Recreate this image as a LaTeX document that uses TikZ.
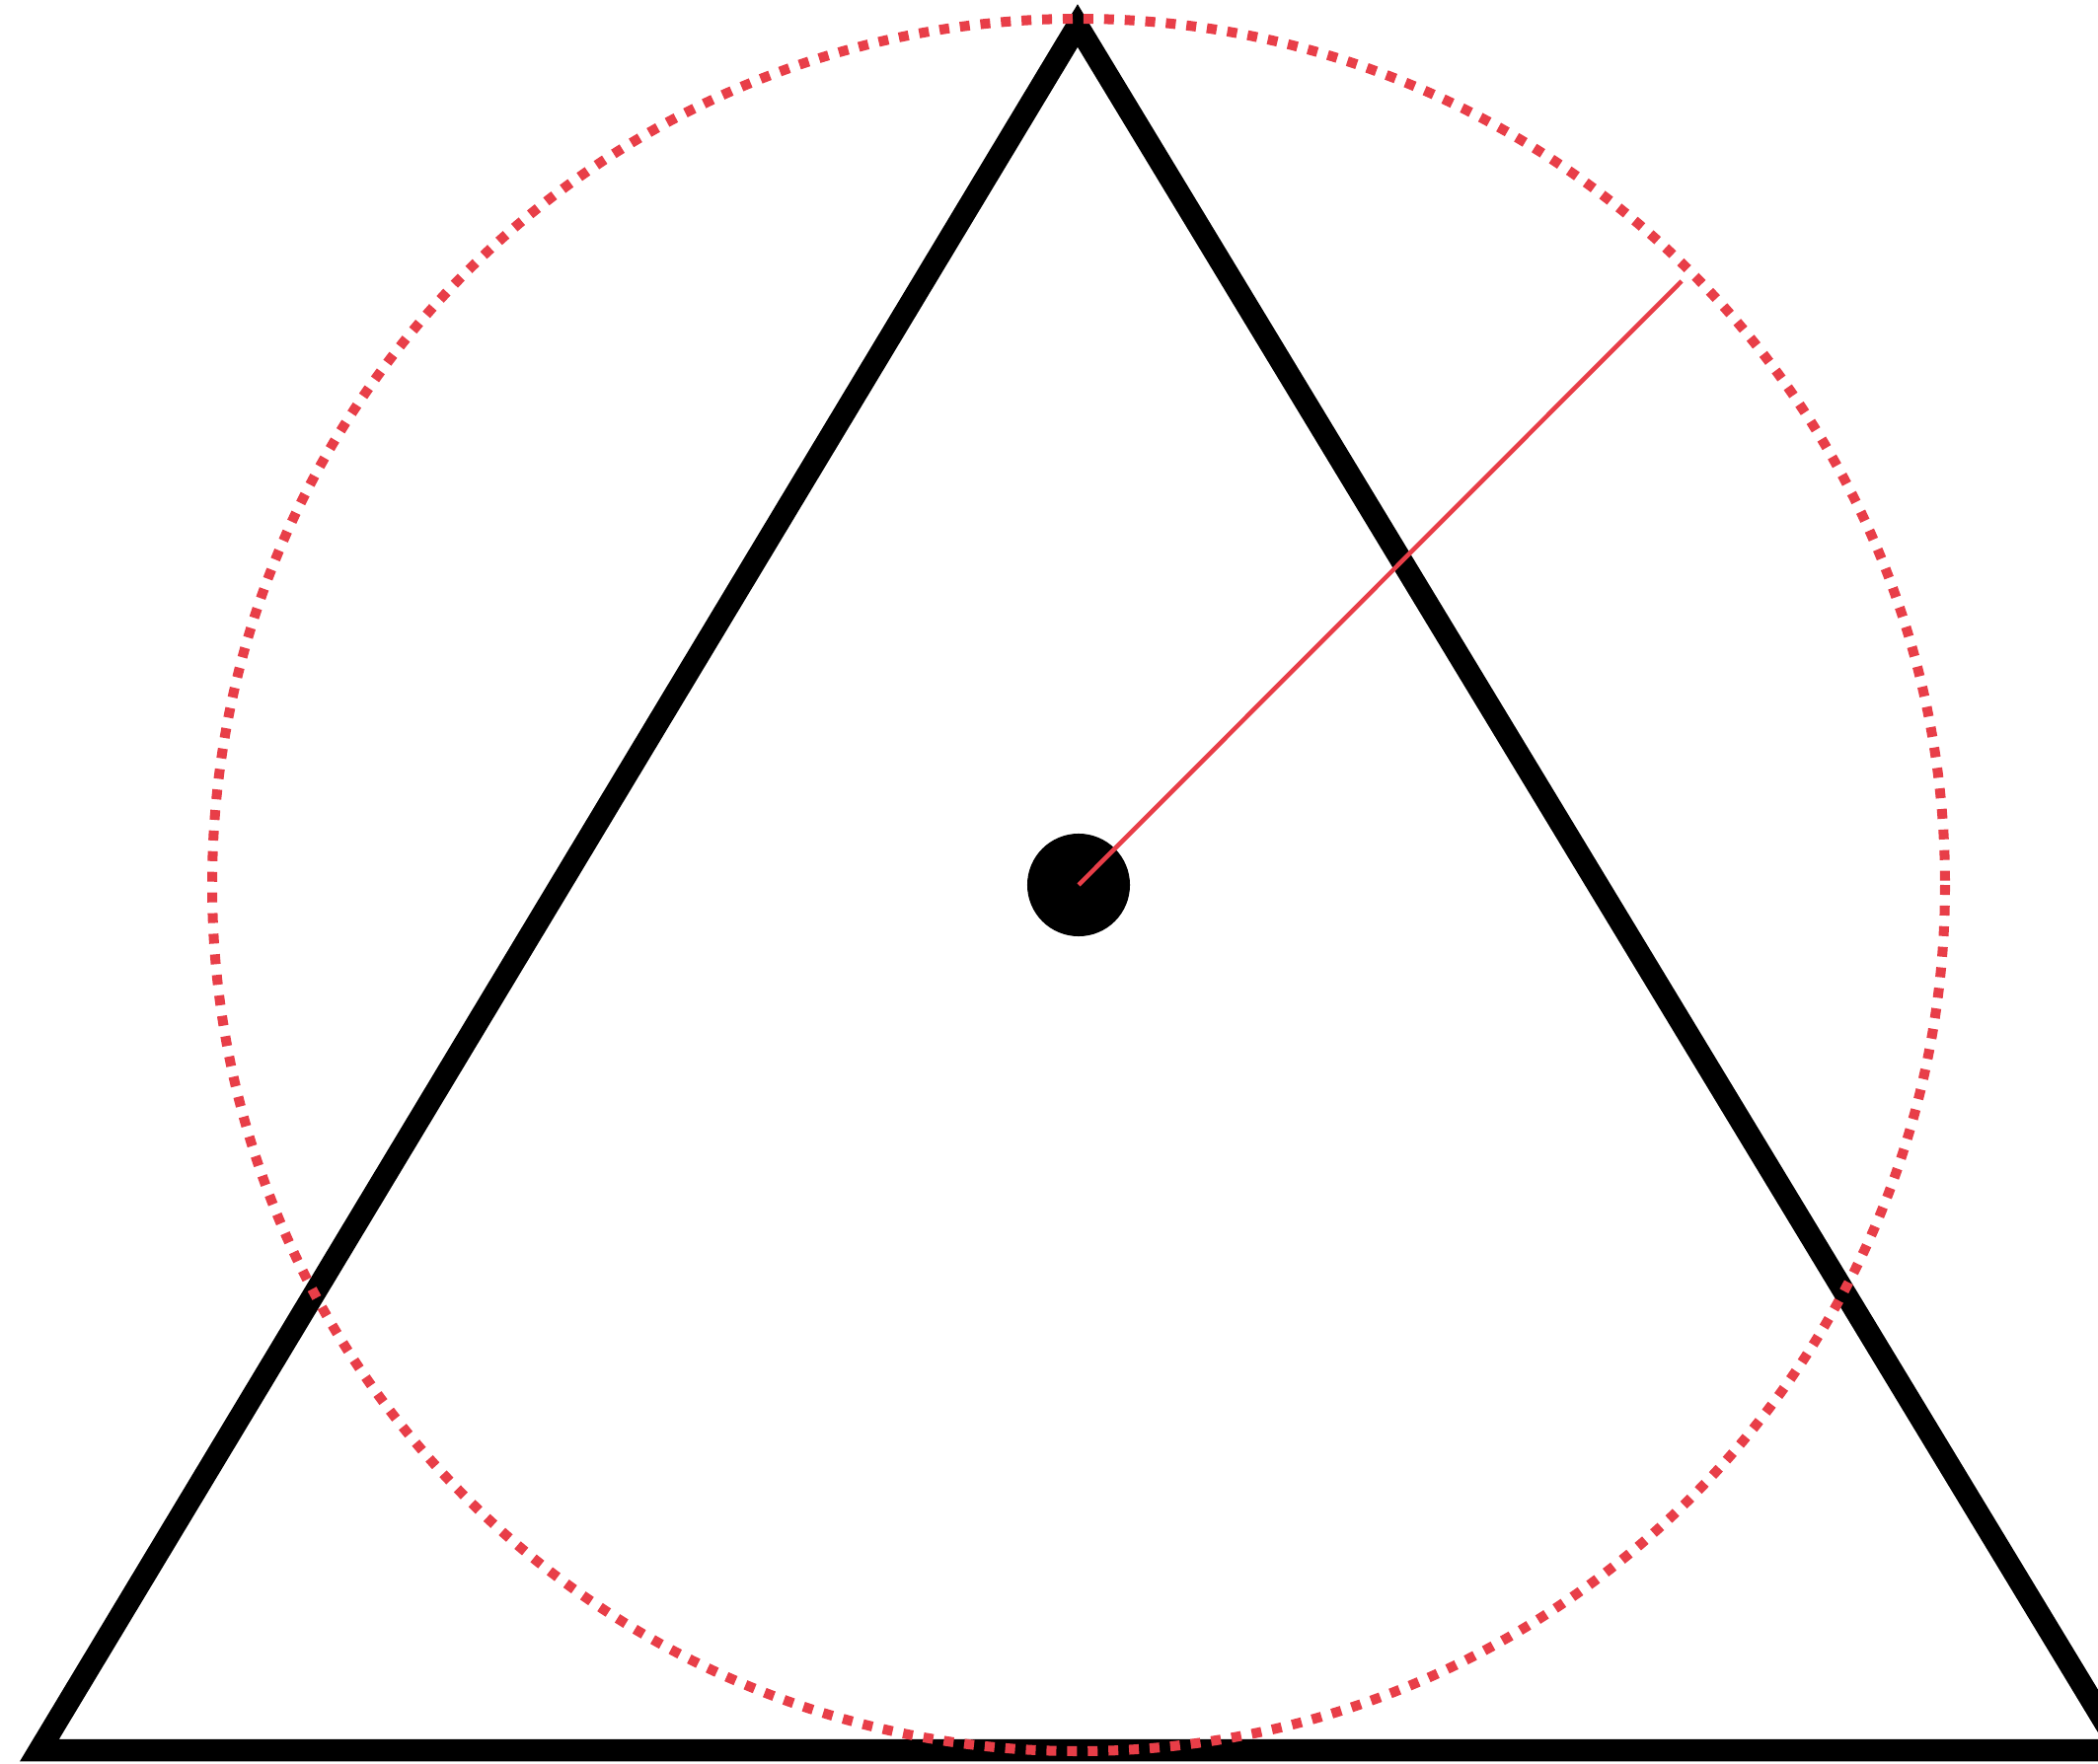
\documentclass[tikz,border=0pt]{standalone}
\definecolor{cred}{RGB}{232,62,72}
\begin{document}
\begin{tikzpicture}[x=0.01cm,y=-0.01cm,
  tri/.style={draw=black,line width=6.4pt,line join=miter},
  ring/.style={draw=cred,line width=2.85pt,dash pattern=on 2.85pt off 3.1pt},
  radius line/.style={draw=cred,line width=1.3pt},
  centre dot/.style={circle,fill=black,inner sep=0pt,minimum size=1.04cm}]
\useasboundingbox (0,0) rectangle (2126,1788);
\coordinate (A) at (1092,26);
\coordinate (B) at (40,1774);
\coordinate (C) at (2150,1774);
\coordinate (O) at (1093,897);
\coordinate (R) at (1704,285);
\draw[tri] (A) -- (B) -- (C) -- cycle;
\draw[ring] (O) circle[radius=878];
\node[centre dot] (dot) at (O) {};
\draw[radius line] (O) -- (R);
\end{tikzpicture}
\end{document}
